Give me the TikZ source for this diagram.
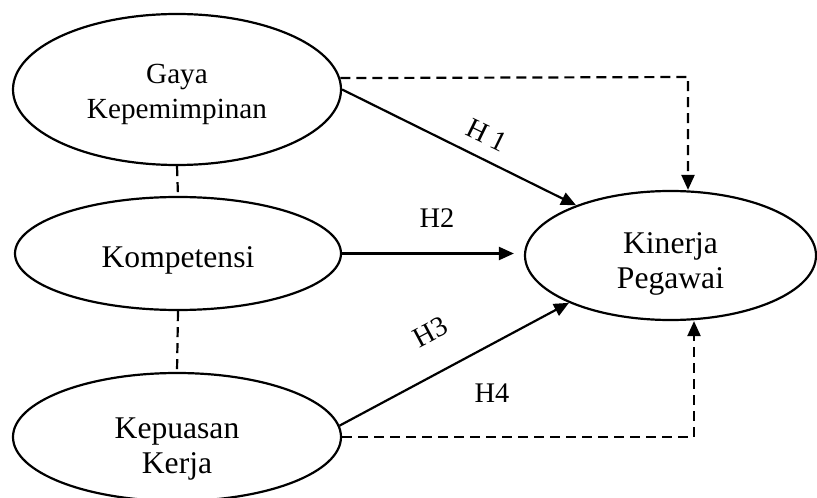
\documentclass[tikz,border=0pt]{standalone}
\usepackage{fontspec}
\setmainfont{Liberation Serif}
\usetikzlibrary{arrows.meta,shapes.geometric}
\tikzset{
  varnode/.style={draw, ellipse, line width=1.1pt, inner sep=0pt},
  vartext/.style={align=center, inner sep=0pt, font=\fontsize{15.8}{17.5}\selectfont},
  pathlink/.style={line width=1.1pt, -{Triangle[length=7.5pt,width=6.5pt]}},
  dashlink/.style={pathlink, dash pattern=on 5pt off 3pt},
  dashline/.style={line width=1.1pt, dash pattern=on 5pt off 3pt},
  hlabel/.style={inner sep=0pt, font=\fontsize{14.2}{16}\selectfont}
}

\begin{document}
\begin{tikzpicture}[x=0.5pt, y=-0.5pt]
  \useasboundingbox (0,0) rectangle (817,497);

  % variables
  \node[varnode, minimum width=164pt, minimum height=75.5pt,
        label={[vartext, font=\fontsize{14.6}{17.5}\selectfont, yshift=-2.5pt]center:{Gaya\\Kepemimpinan}}]
        (gaya) at (177,89.5) {};
  \node[varnode, minimum width=163pt, minimum height=56.5pt,
        label={[vartext, yshift=-3.5pt]center:Kompetensi}]
        (komp) at (178,253.5) {};
  \node[varnode, minimum width=164pt, minimum height=64pt,
        label={[vartext, yshift=-6pt]center:{Kepuasan\\Kerja}}]
        (kepuasan) at (177,437) {};
  \node[varnode, minimum width=145.5pt, minimum height=64.5pt,
        label={[vartext, yshift=-4pt]center:{Kinerja\\Pegawai}}]
        (kinerja) at (670.5,255.5) {};

  % bends of the dashed paths
  \coordinate (topbend) at (688,77);
  \coordinate (botbend) at (694,437);

  % correlations between the independent variables
  \draw[dashline] (gaya.south) -- (komp.north);
  \draw[dashline] (komp.south) -- (kepuasan.north);

  % hypotheses
  \draw[pathlink] (gaya.east) -- (kinerja.152);
  \draw[pathlink, shorten >=5pt] (komp.east) -- (komp.east -| kinerja.west);
  \draw[pathlink] (kepuasan.4) -- (kinerja.205);
  \draw[dashlink] (gaya.4) -- (topbend) -- (kinerja.north -| topbend);
  \draw[dashlink] (kepuasan.east) -- (botbend) -- (kinerja.south -| botbend);

  % labels
  \node[hlabel, rotate=-26] (h1) at (487,135) {H 1};
  \node[hlabel] (h2) at (437,218) {H2};
  \node[hlabel, rotate=28] (h3) at (430,332) {H3};
  \node[hlabel] (h4) at (492,393) {H4};
\end{tikzpicture}
\end{document}
